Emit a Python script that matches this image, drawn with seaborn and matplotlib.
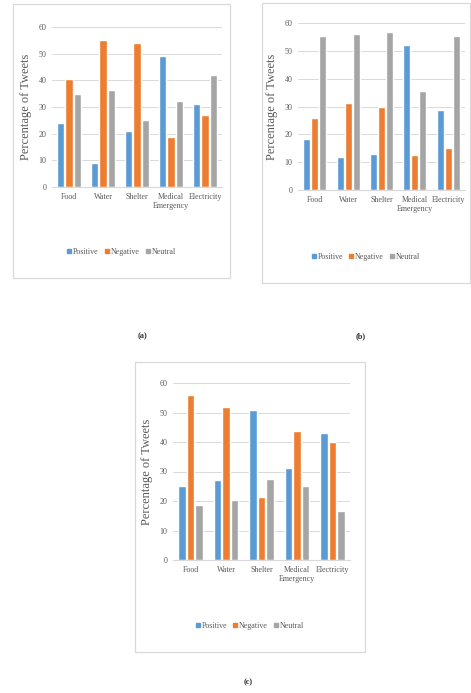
import pandas as pd
import numpy as np
import matplotlib
matplotlib.use('Agg')
import matplotlib.pyplot as plt
import seaborn as sns
from matplotlib.patches import Rectangle

# datos
categorias = ['Food', 'Water', 'Shelter', 'Medical\nEmergency', 'Electricity']
sentimientos = ['Positive', 'Negative', 'Neutral']

positivo_a = [24, 9, 21, 49, 31]
negativo_a = [40.6, 55.3, 54, 18.8, 26.9]
neutral_a = [35, 36.3, 25, 32.3, 41.9]

positivo_b = [18.2, 11.8, 12.8, 52.2, 28.6]
negativo_b = [25.8, 31.4, 30, 12.4, 15.2]
neutral_b = [55.4, 56.2, 56.6, 35.4, 55.4]

positivo_c = [25.2, 27.2, 50.7, 31.1, 43]
negativo_c = [55.8, 51.9, 21.2, 43.6, 40.1]
neutral_c = [18.5, 20.4, 27.4, 25.1, 16.6]

etiquetas = ['(a)', '(b)', '(c)']

colores = ['#5B9BD5', '#ED7D31', '#A5A5A5']
W, H = 471, 693

sns.set_style('white')
plt.rcParams['font.family'] = ['Liberation Serif', 'DejaVu Serif']

fig = plt.figure(figsize=(W / 100, H / 100), dpi=100)


def px(x0, y0, x1, y1):
    # pixeles (arriba-izquierda) a fracciones de figura
    return [x0 / W, 1 - y1 / H, (x1 - x0) / W, (y1 - y0) / H]


def panel(caja_ejes, caja_marco, positivo, negativo, neutral):
    fig.add_artist(Rectangle((caja_marco[0] / W, 1 - caja_marco[3] / H),
                             (caja_marco[2] - caja_marco[0]) / W,
                             (caja_marco[3] - caja_marco[1]) / H,
                             transform=fig.transFigure, fill=False,
                             edgecolor='#D9D9D9', lw=0.9))
    ax = fig.add_axes(px(*caja_ejes))
    datos = pd.DataFrame({
        'Categoria': categorias * 3,
        'Sentimiento': np.repeat(sentimientos, len(categorias)),
        'Valor': positivo + negativo + neutral,
    })
    sns.barplot(data=datos, x='Categoria', y='Valor', hue='Sentimiento',
                palette=colores, saturation=1, width=0.72, gap=0.12,
                ax=ax, legend=False)
    ax.set_ylim(0, 60)
    ax.set_yticks(range(0, 61, 10))
    ax.grid(axis='y', color='#D9D9D9', lw=0.7)
    ax.set_axisbelow(True)
    for lado in ['top', 'right', 'left']:
        ax.spines[lado].set_visible(False)
    ax.spines['bottom'].set_color('#D9D9D9')
    ax.tick_params(axis='both', length=0, labelsize=5.8, colors='#595959', pad=4)
    ax.set_xlabel('')
    ax.set_ylabel('Percentage of Tweets', fontsize=9, color='#595959', labelpad=5)
    manijas = [Rectangle((0, 0), 1, 1, color=c) for c in colores]
    centro = ((caja_marco[0] + caja_marco[2]) / 2 - caja_ejes[0]) / (caja_ejes[2] - caja_ejes[0])
    alto = caja_ejes[3] - caja_ejes[1]
    y_ley = -(caja_marco[3] - caja_ejes[3] - 26) / alto
    ax.legend(manijas, sentimientos, loc='center', bbox_to_anchor=(centro, y_ley),
              ncol=3, frameon=False, fontsize=5.8, handlelength=0.5, handleheight=0.5,
              handletextpad=0.2, columnspacing=0.8, labelcolor='#595959')
    return ax


panel((52, 27, 222, 187), (13, 4, 230, 278), positivo_a, negativo_a, neutral_a)
panel((298, 23, 465, 190), (262, 3, 470, 283), positivo_b, negativo_b, neutral_b)
panel((173, 383, 350, 560), (135, 362, 365, 652), positivo_c, negativo_c, neutral_c)

for texto, x, y in zip(etiquetas, [143, 361, 248], [336, 336, 682]):
    fig.text(x / W, 1 - y / H, texto, fontsize=6, fontweight='bold',
             ha='center', va='center', color='#333333')

fig.savefig('out.png', dpi=100)
